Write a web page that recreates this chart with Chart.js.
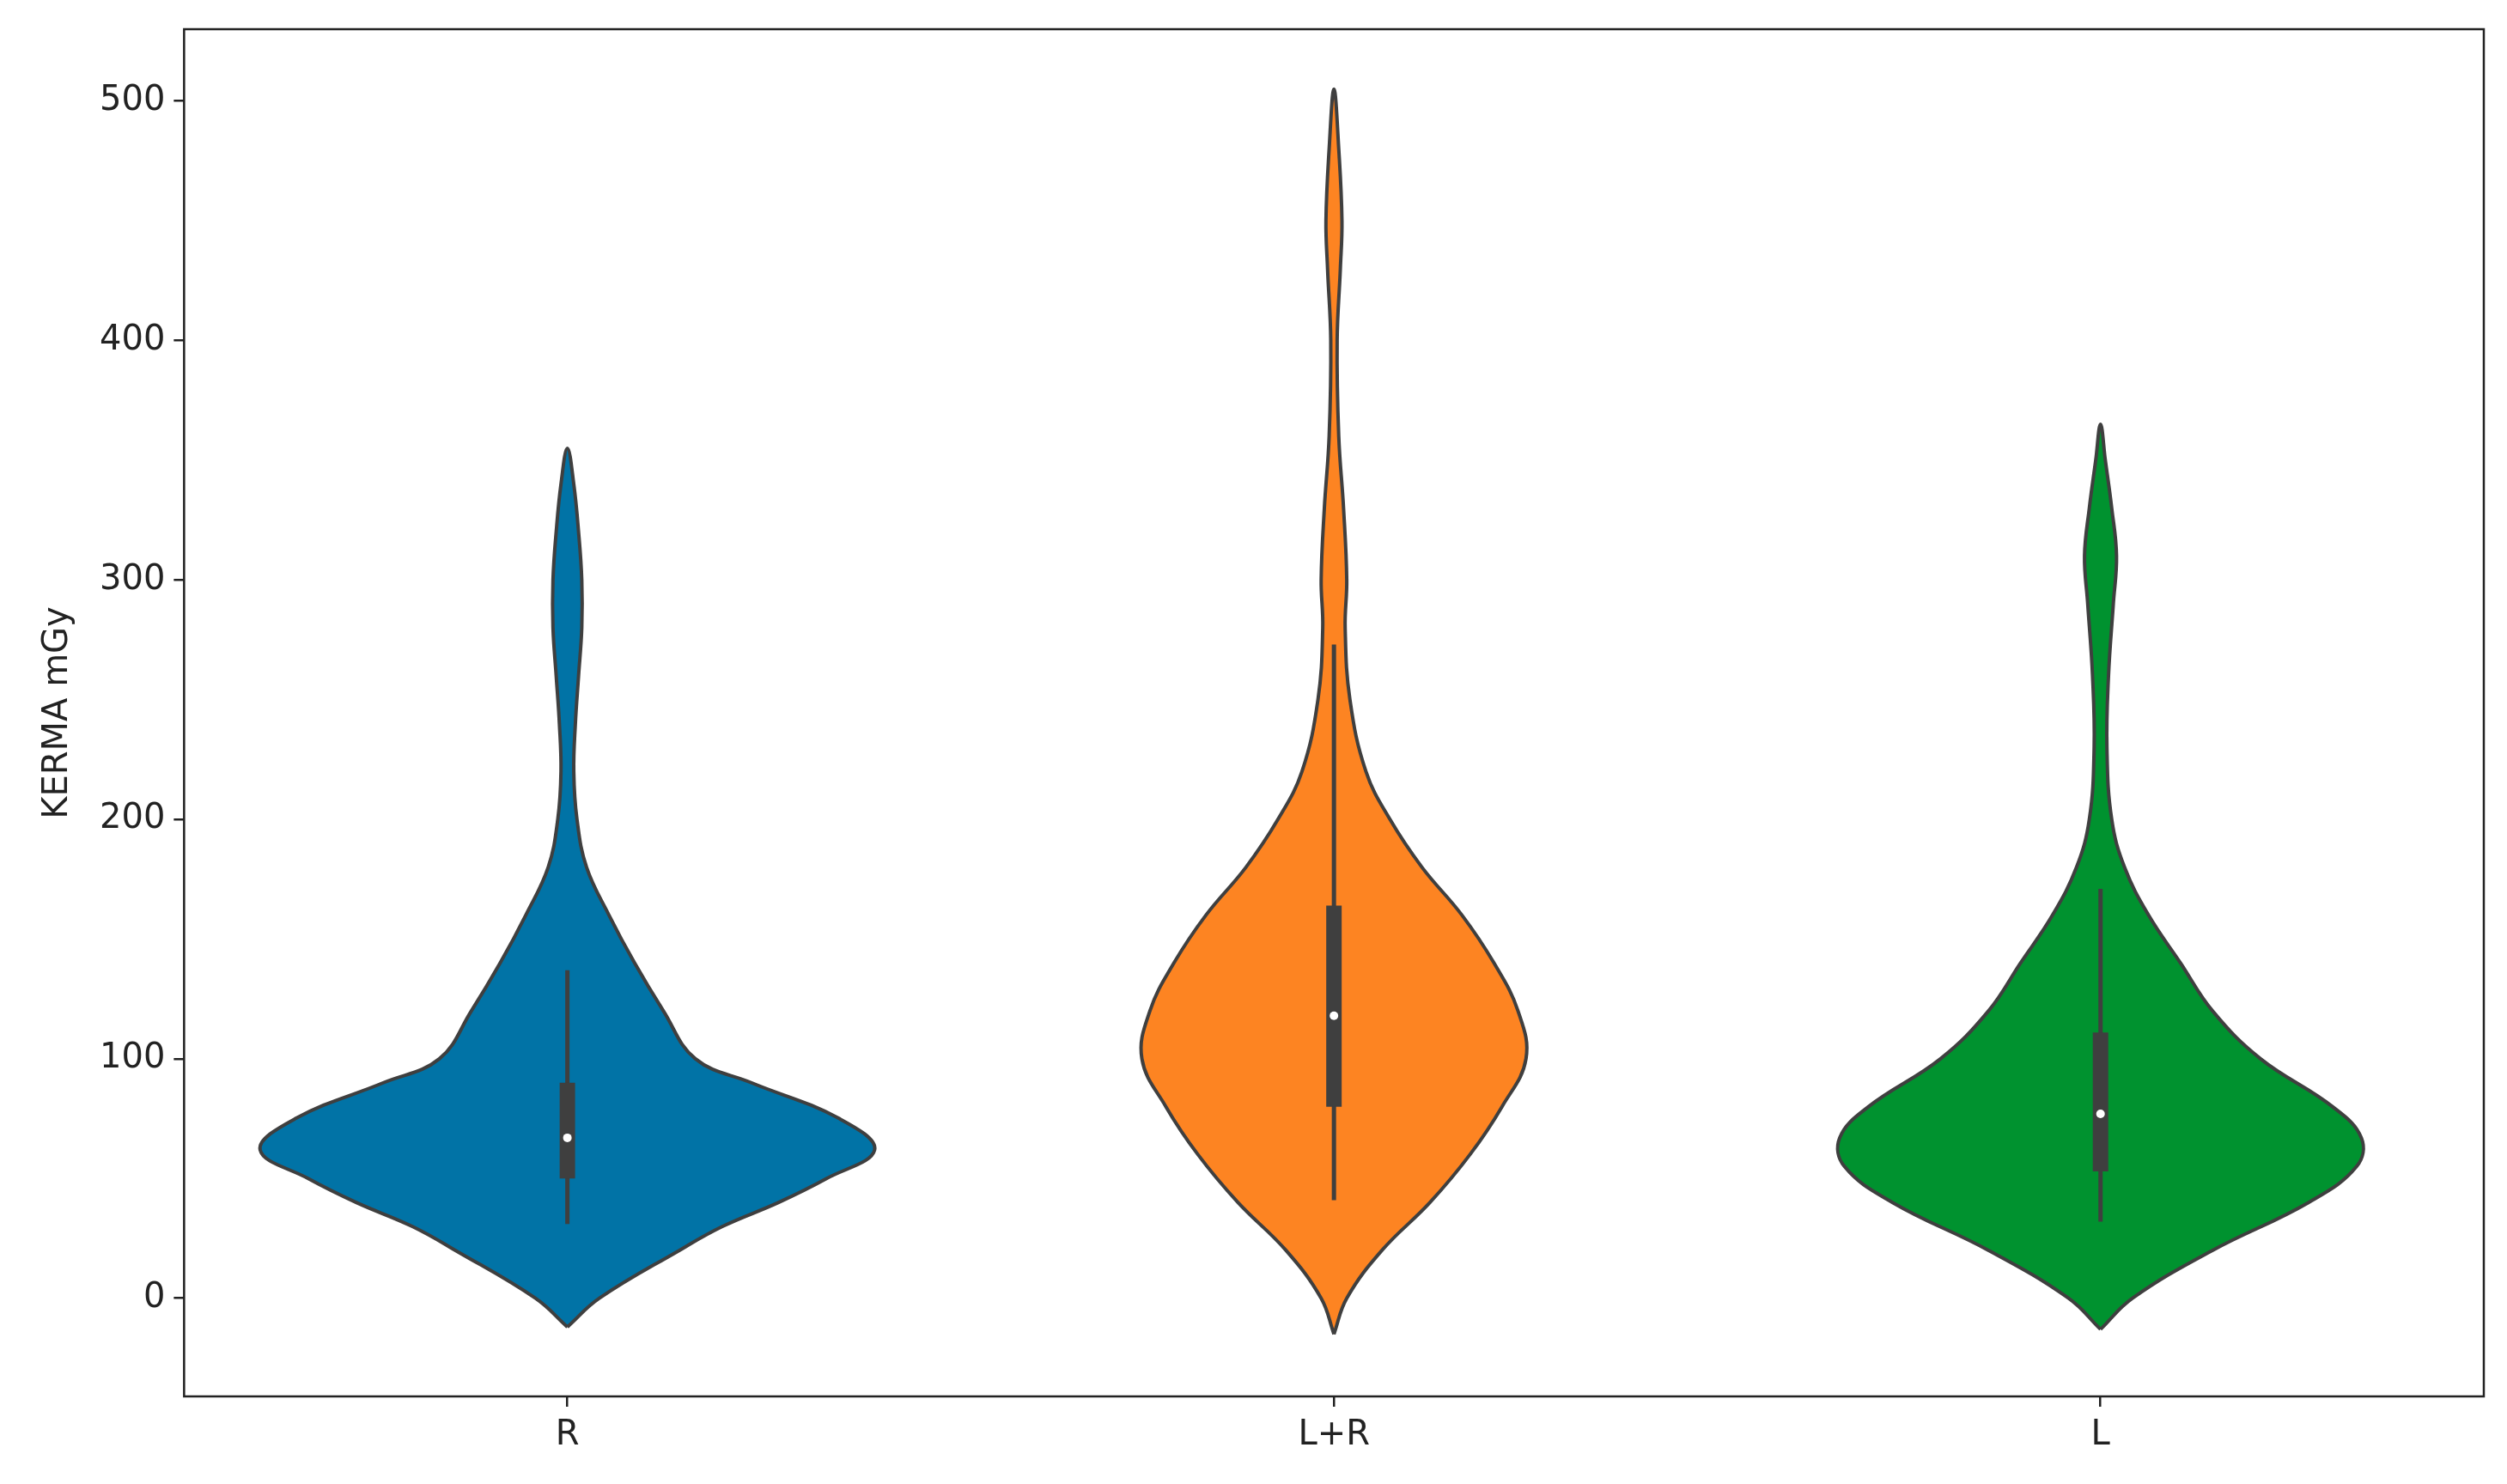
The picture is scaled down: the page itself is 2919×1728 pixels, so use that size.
<!DOCTYPE html>
<html>
<head>
<meta charset="utf-8">
<script src="https://cdn.jsdelivr.net/npm/chart.js@4"></script>
<style>
  html, body { margin: 0; padding: 0; background: #ffffff; }
  #wrap { width: 2919px; height: 1728px; }
</style>
</head>
<body>
<div id="wrap"><canvas id="violinChart"></canvas></div>
<script>
// categories and colours
const categories = ["R", "L+R", "L"];
const colors = ["#0173a6", "#fd8422", "#00922f"];
const yTicks = [0, 100, 200, 300, 400, 500];

// density profiles: y levels and half widths (in reference px, 479 = one category)
const rLevels = [-12, 0, 20, 30, 40, 50, 62, 75, 90, 100, 120, 140, 160, 180, 200, 220, 240, 260, 280, 300, 320, 340, 355];
const rWidths = [0, 20, 70, 97, 132, 162, 192, 170, 115, 80, 60, 42, 26, 12, 6, 4, 5, 7, 9, 9, 7, 4, 0];
const lrLevels = [-15, 0, 20, 40, 60, 80, 100, 120, 140, 160, 180, 200, 220, 250, 280, 300, 330, 360, 400, 430, 450, 480, 505];
const lrWidths = [0, 8, 30, 60, 85, 105, 120, 115, 100, 80, 55, 35, 20, 10, 7, 8, 6, 3, 2, 4, 5, 3, 0];
const lLevels = [-13, 0, 20, 40, 55, 67, 80, 100, 120, 140, 160, 180, 200, 230, 260, 290, 310, 330, 350, 365];
const lWidths = [0, 20, 70, 130, 160, 163, 145, 100, 70, 50, 30, 15, 7, 4, 5, 8, 10, 7, 3, 0];

// box stats: [whiskerLow, q1, median, q3, whiskerHigh]
const rStats = [31, 50, 67, 90, 137];
const lrStats = [41, 80, 118, 164, 273];
const lStats = [32, 53, 77, 111, 171];

const WIDTH_SCALE = 479;
const profiles = [[rLevels, rWidths], [lrLevels, lrWidths], [lLevels, lWidths]];
const stats = [rStats, lrStats, lStats];

function outline(idx) {
  const levels = profiles[idx][0], widths = profiles[idx][1];
  const pts = [];
  for (let i = 0; i < levels.length; i++) pts.push({ x: idx + widths[i] / WIDTH_SCALE, y: levels[i] });
  for (let i = levels.length - 2; i >= 0; i--) pts.push({ x: idx - widths[i] / WIDTH_SCALE, y: levels[i] });
  return pts;
}

const datasets = [];
categories.forEach(function (c, i) {
  datasets.push({
    label: c, data: outline(i), borderColor: "#3f3f3f", borderWidth: 4,
    backgroundColor: colors[i], isViolin: true, pointRadius: 0, tension: 0.4, order: 3
  });
  const s = stats[i];
  datasets.push({
    data: [{ x: i, y: s[0] }, { x: i, y: s[4] }], borderColor: "#3f3f3f",
    borderWidth: 5, pointRadius: 0, order: 2
  });
  datasets.push({
    data: [{ x: i, y: s[1] }, { x: i, y: s[3] }], borderColor: "#3f3f3f",
    borderWidth: 18, borderCapStyle: "butt", pointRadius: 0, order: 1
  });
  datasets.push({
    data: [{ x: i, y: s[2] }], showLine: false, pointRadius: 5, pointBorderWidth: 0,
    pointBackgroundColor: "#ffffff", order: 0
  });
});

const violinFill = {
  id: "violinFill",
  beforeDatasetDraw: function (chart, args) {
    const ds = chart.data.datasets[args.index];
    if (!ds.isViolin) return;
    const ctx = chart.ctx;
    const meta = args.meta;
    ctx.save();
    ctx.beginPath();
    meta.dataset.path(ctx);
    ctx.closePath();
    ctx.fillStyle = ds.backgroundColor;
    ctx.fill();
    ctx.restore();
  },
  afterDraw: function (chart) {
    const a = chart.chartArea, ctx = chart.ctx;
    ctx.save();
    ctx.strokeStyle = "#222222";
    ctx.lineWidth = 2.5;
    ctx.strokeRect(a.left, a.top, a.right - a.left, a.bottom - a.top);
    ctx.restore();
  }
};

Chart.defaults.font.family = "DejaVu Sans";
new Chart(document.getElementById("violinChart").getContext("2d"), {
  type: "line",
  data: { datasets: datasets },
  plugins: [violinFill],
  options: {
    responsive: true,
    maintainAspectRatio: false,
    animation: false,
    layout: { padding: { top: 30, right: 27, left: 40, bottom: 22 } },
    plugins: { legend: { display: false }, tooltip: { enabled: false } },
    scales: {
      x: {
        type: "linear", min: -0.5, max: 2.5,
        afterBuildTicks: function (axis) { axis.ticks = categories.map(function (c, i) { return { value: i }; }); },
        ticks: {
          callback: function (v) { return categories[v]; },
          color: "#222222", font: { size: 40 }, padding: 10
        },
        grid: { drawOnChartArea: false, tickLength: 12, color: "#222222", lineWidth: 2.5 },
        border: { display: false }
      },
      y: {
        min: -41, max: 530,
        afterBuildTicks: function (axis) { axis.ticks = yTicks.map(function (v) { return { value: v }; }); },
        ticks: { color: "#222222", font: { size: 40 }, padding: 10 },
        grid: { drawOnChartArea: false, tickLength: 12, color: "#222222", lineWidth: 2.5 },
        border: { display: false },
        title: { display: true, text: "KERMA mGy", color: "#222222", font: { size: 40 }, padding: { bottom: 14 } }
      }
    }
  }
});
</script>
</body>
</html>
